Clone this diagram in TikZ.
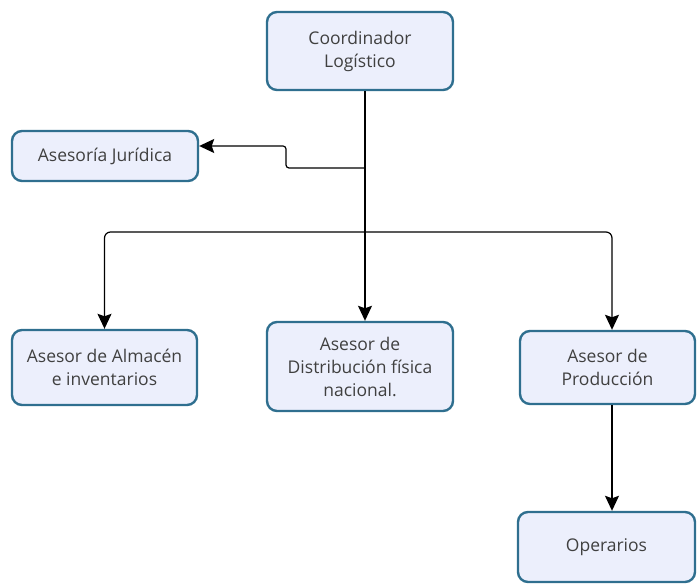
\documentclass[tikz,border=0pt]{standalone}
\usepackage{fontspec}
\setmainfont{Open Sans}
\usepackage{tikz}
\usetikzlibrary{arrows.meta,positioning}

\definecolor{boxfill}{HTML}{ECEFFC}
\definecolor{boxline}{HTML}{2F6F8F}
\definecolor{boxtext}{HTML}{404040}

\tikzset{
  cargo/.style={draw=boxline, line width=2.4pt, fill=boxfill, rounded corners=10pt,
    align=center, text=boxtext, font=\fontsize{17.5}{23}\selectfont, inner sep=0pt},
  enlace/.style={draw=black, line width=1.2pt, rounded corners=6pt,
    -{Stealth[length=15pt,width=14pt,inset=2.5pt]}}
}

\begin{document}
\begin{tikzpicture}[x=1pt,y=-1pt]
\useasboundingbox (0,0) rectangle (697,585);
% cajas
\node[cargo, minimum width=186pt, minimum height=78pt] (coord) at (360,51) {Coordinador\\Logístico};
\node[cargo, minimum width=186pt, minimum height=50pt] (jur) at (105,156) {Asesoría Jurídica};
\node[cargo, minimum width=185pt, minimum height=75pt] (alm) at (104.5,367.5) {Asesor de Almacén\\e inventarios};
\node[cargo, minimum width=186pt, minimum height=89pt] (dist) at (360,366.5) {Asesor de\\Distribución física\\nacional.};
\node[cargo, minimum width=175pt, minimum height=73pt] (prod) at (607.5,367.5) {Asesor de\\Producción};
\node[cargo, minimum width=177pt, minimum height=70pt] (oper) at (606.5,547) {Operarios};
% puntos de paso
\coordinate (tronco) at ([xshift=5pt]coord.south);
\coordinate (rama) at (tronco |- 0,232);
\coordinate (quiebre) at (tronco |- 0,168);
\coordinate (baja) at ([xshift=4.5pt]prod.south);
% conectores
\draw[enlace] (tronco) -- (tronco |- dist.north);
\draw[enlace, rounded corners=3pt] (quiebre) -- (286,168) -- (286,146) -- ([yshift=10pt]jur.east);
\draw[enlace] (rama) -| (alm.north);
\draw[enlace] (rama) -| (baja |- prod.north);
\draw[enlace] (baja) -- (baja |- oper.north);
\end{tikzpicture}
\end{document}
